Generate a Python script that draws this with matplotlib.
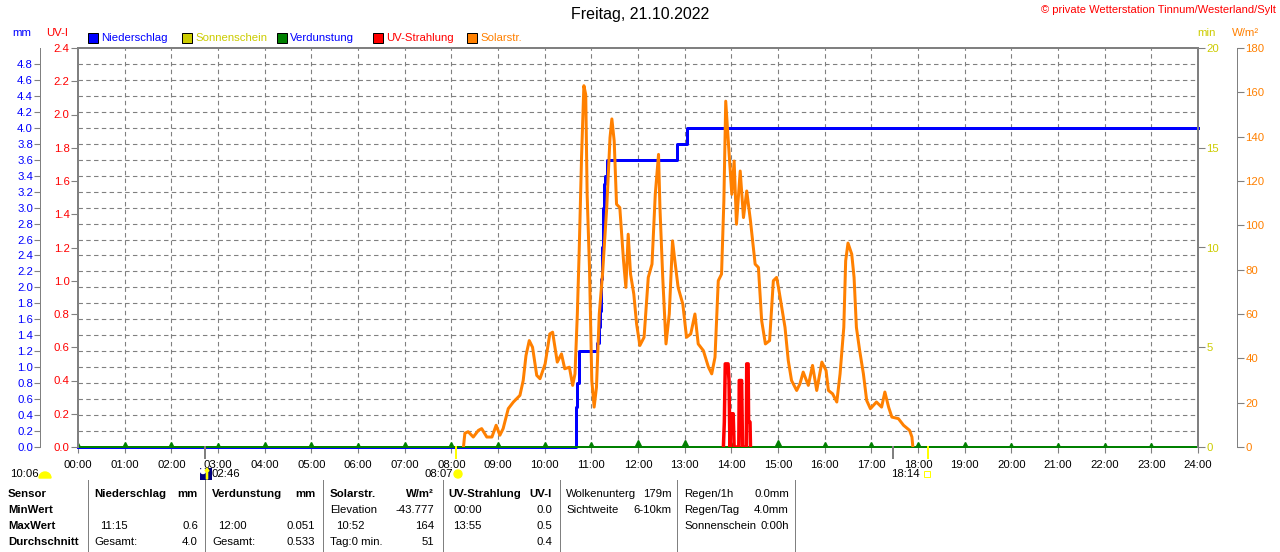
import matplotlib
matplotlib.use("Agg")
import matplotlib.pyplot as plt
import matplotlib.patches as mpatches
from matplotlib.transforms import IdentityTransform
import numpy as np

plt.rcParams['font.family'] = ['Liberation Sans', 'DejaVu Sans']

#### Data (time in hours)

rain_t = [0.0, 10.67, 10.70, 10.73, 11.13, 11.17, 11.19, 11.20, 11.22, 11.25, 11.27, 11.30, 11.34, 12.84, 13.04, 24.0]
rain_mm = [0.0, 0.5, 0.8, 1.2, 1.3, 1.5, 1.7, 2.1, 2.5, 3.0, 3.3, 3.4, 3.6, 3.8, 4.0, 4.0]

solar_t = [8.26, 8.29, 8.36, 8.47, 8.58, 8.65, 8.76, 8.87, 8.96, 9.04, 9.11, 9.22, 9.33, 9.47, 9.54,
           9.60, 9.67, 9.74, 9.83, 9.90, 10.01, 10.11, 10.17, 10.22, 10.27, 10.36, 10.43, 10.53, 10.60,
           10.65, 10.70, 10.74, 10.79, 10.84, 10.88, 10.91, 10.96, 11.01, 11.06, 11.11, 11.17, 11.24,
           11.33, 11.40, 11.44, 11.49, 11.54, 11.61, 11.69, 11.74, 11.79, 11.84, 11.91, 11.97, 12.04,
           12.13, 12.22, 12.30, 12.37, 12.44, 12.47, 12.53, 12.60, 12.67, 12.74, 12.79, 12.86, 12.96,
           13.04, 13.13, 13.22, 13.29, 13.40, 13.51, 13.58, 13.65, 13.72, 13.79, 13.84, 13.88, 13.93,
           14.01, 14.06, 14.11, 14.19, 14.26, 14.33, 14.41, 14.51, 14.58, 14.65, 14.73, 14.82, 14.90,
           14.97, 15.01, 15.15, 15.22, 15.29, 15.40, 15.47, 15.54, 15.65, 15.74, 15.83, 15.94, 16.03,
           16.08, 16.17, 16.26, 16.33, 16.41, 16.45, 16.50, 16.58, 16.63, 16.68, 16.75, 16.83, 16.90,
           16.98, 17.11, 17.22, 17.29, 17.37, 17.44, 17.58, 17.69, 17.82, 17.87, 17.89]
solar_w = [0, 6.2, 6.9, 4.5, 7.5, 8.3, 4.5, 4.5, 9.8, 5.3, 8.3, 17.3, 20.3, 23.3, 30,
           41.3, 48, 45, 32.3, 30.8, 37.5, 51, 51.8, 45, 38.3, 42, 35.3, 36, 27.8,
           33, 60, 88.5, 130.5, 163, 159, 114, 81, 30, 18, 27, 60, 78,
           108, 139.5, 148, 138, 109.5, 108, 84, 72, 96, 78, 69, 55.5, 45.8,
           49.5, 76.5, 82.5, 114, 132, 108, 76.5, 46.5, 60, 93, 84, 72, 64.5,
           49.5, 51, 60, 46.5, 43.5, 36, 33, 40.5, 75, 78, 111, 156, 139.5,
           114, 129, 100.5, 124.5, 103.5, 115.5, 102, 82.5, 81, 57, 46.5, 48, 75,
           76.5, 72, 54, 39, 30, 25.5, 28.5, 33.8, 27.8, 36.8, 25.5, 38.3, 34.5,
           25.5, 24, 20.3, 33, 54, 84, 92, 87, 76.5, 54, 43.5, 33, 21,
           17.3, 20.3, 18, 24.8, 18, 13.5, 12.8, 9.8, 7.5, 4.5, 0]

uv_t = [13.83, 13.85, 13.87, 13.93, 13.95, 13.97, 13.99, 14.04, 14.06, 14.16, 14.17, 14.22, 14.24,
        14.32, 14.33, 14.36, 14.37, 14.40, 14.41]
uv_i = [0.0, 0.15, 0.5, 0.5, 0.4, 0.0, 0.2, 0.2, 0.0, 0.0, 0.4, 0.4, 0.0,
        0.0, 0.5, 0.5, 0.15, 0.15, 0.0]

evap_h = list(range(24))
evap_mm = [0.015, 0.02, 0.02, 0.015, 0.02, 0.02, 0.015, 0.02, 0.02, 0.025, 0.025, 0.03,
           0.051, 0.045, 0.03, 0.045, 0.025, 0.025, 0.025, 0.02, 0.015, 0.015, 0.015, 0.015]

hour_labels = ["%02d:00" % h for h in range(25)]
mm_ticks = [round(0.2 * i, 1) for i in range(25)]
uv_ticks = [round(0.2 * i, 1) for i in range(13)]
min_ticks = [0, 5, 10, 15, 20]
sol_ticks = list(range(0, 181, 20))

#### Helpers for pixel placement

W, H = 1280, 552
def fx(px):
    return px / W
def fy(py):
    return 1 - py / H

GRAY = "#808080"
BLUE = "#0000ff"
RED = "#ff0000"
YEL = "#cccc00"
SUN = "#ffff00"
ORA = "#ff8000"
GRN = "#008000"
px = 72 / 100  # points per pixel
FS = 8.2

fig = plt.figure(figsize=(12.8, 5.52), dpi=100)
ax = fig.add_axes([fx(78), fy(447), 1120 / W, 399 / H])
ax.set_xlim(0, 24)
ax.set_ylim(0, 5)

# grid
for h in range(1, 24):
    ax.axvline(h, color=GRAY, lw=0.8, ls=(0, (4, 3)), zorder=1)
for i in range(1, 25):
    ax.axhline(0.2 * i, color=GRAY, lw=0.8, ls=(0, (4, 3)), zorder=1)

ax_uv = ax.twinx()
ax_uv.set_ylim(0, 2.4)
ax_sol = ax.twinx()
ax_sol.set_ylim(0, 180)
ax_min = ax.twinx()
ax_min.set_ylim(0, 20)

# data
ax_sol.plot(solar_t, solar_w, color=ORA, lw=3 * px, zorder=3)
ax.plot(rain_t, rain_mm, color=BLUE, lw=3 * px, drawstyle="steps-post", zorder=5, clip_on=False)
ax.plot([0, 24], [0, 0], color=GRN, lw=2 * px, zorder=6, clip_on=False)
ax.plot(evap_h, evap_mm, ls="none", marker="^", ms=4, color=GRN, zorder=6)
ax_uv.plot(uv_t, uv_i, color=RED, lw=3.5 * px, zorder=4)

# axes styling
for a in (ax, ax_uv, ax_sol, ax_min):
    a.patch.set_visible(False)
    for s in a.spines.values():
        s.set_visible(False)

ax.set_xticks(range(25))
ax.set_xticklabels(hour_labels, fontsize=FS)
ax.tick_params(axis="x", direction="out", length=4, color=GRAY, pad=5)
ax.spines["left"].set_visible(True)
ax.spines["left"].set_position(("outward", 38 * px))
ax.spines["left"].set_color(GRAY)
ax.spines["left"].set_linewidth(1 * px)
ax.set_yticks(mm_ticks)
ax.set_yticklabels(["%.1f" % v for v in mm_ticks], fontsize=FS, color=BLUE)
ax.tick_params(axis="y", direction="out", length=4, color=GRAY, pad=1)

ax_uv.yaxis.tick_left()
ax_uv.set_yticks(uv_ticks)
ax_uv.set_yticklabels(["%.1f" % v for v in uv_ticks], fontsize=FS, color=RED)
ax_uv.tick_params(axis="y", direction="out", length=5, color=GRAY, pad=1)
for side in ("left", "right", "top"):
    ax_uv.spines[side].set_visible(True)
    ax_uv.spines[side].set_color(GRAY)
    ax_uv.spines[side].set_linewidth(2 * px)

ax_min.set_yticks(min_ticks)
ax_min.set_yticklabels([str(v) for v in min_ticks], fontsize=FS, color=YEL)
ax_min.tick_params(axis="y", direction="out", length=5, color=GRAY, pad=1)

ax_sol.spines["right"].set_visible(True)
ax_sol.spines["right"].set_position(("outward", 39 * px))
ax_sol.spines["right"].set_color(GRAY)
ax_sol.spines["right"].set_linewidth(1 * px)
ax_sol.set_yticks(sol_ticks)
ax_sol.set_yticklabels([str(v) for v in sol_ticks], fontsize=FS, color=ORA)
ax_sol.tick_params(axis="y", direction="out", length=5, color=GRAY, pad=1)

#### Header texts

fig.text(0.5, fy(15), "Freitag, 21.10.2022", ha="center", va="center", fontsize=11.5)
fig.text(fx(1276), fy(10), "\u00a9 private Wetterstation Tinnum/Westerland/Sylt",
         ha="right", va="center", fontsize=8, color=RED)
fig.text(fx(22), fy(33), "mm", ha="center", va="center", fontsize=FS, color=BLUE)
fig.text(fx(57), fy(33), "UV-I", ha="center", va="center", fontsize=FS, color=RED)
fig.text(fx(1206), fy(33), "min", ha="center", va="center", fontsize=FS, color=YEL)
fig.text(fx(1246), fy(33), "W/m\u00b2", ha="center", va="center", fontsize=FS, color=ORA)

legend_items = [("Niederschlag", BLUE, BLUE, 88), ("Sonnenschein", YEL, YEL, 182),
                ("Verdunstung", GRN, BLUE, 277), ("UV-Strahlung", RED, RED, 373),
                ("Solarstr.", ORA, ORA, 467)]
for name, box, txt, x0 in legend_items:
    fig.patches.append(mpatches.Rectangle((fx(x0), fy(43)), 10 / W, 10 / H, facecolor=box,
                                          edgecolor="black", lw=1 * px, transform=fig.transFigure))
    fig.text(fx(x0 + 13), fy(38), name, ha="left", va="center", fontsize=FS, color=txt)

#### Sun / moon markers below the axis

for xp, c in [(205, GRAY), (893, GRAY), (456, SUN), (928, SUN)]:
    fig.lines.append(plt.Line2D([fx(xp), fx(xp)], [fy(447), fy(458)], color=c, lw=2 * px,
                                transform=fig.transFigure))
pix = IdentityTransform()
fig.text(fx(10), fy(474), "10:06", ha="left", va="center", fontsize=FS)
fig.patches.append(mpatches.Wedge((45, H - 478), 6, 0, 180, color=SUN, transform=pix))
fig.patches.append(mpatches.Rectangle((200, H - 480), 12, 12, facecolor="#000080", transform=pix))
fig.patches.append(mpatches.Circle((203, H - 471), 2.5, color="white", transform=pix))
fig.patches.append(mpatches.FancyArrow(207, H - 479, 0, 8, width=1.2, head_width=4, head_length=3,
                                       color=SUN, transform=pix))
fig.text(fx(212), fy(474), "02:46", ha="left", va="center", fontsize=FS)
fig.text(fx(453), fy(474), "08:07", ha="right", va="center", fontsize=FS)
fig.patches.append(mpatches.Circle((458, H - 474), 4, color=SUN, transform=pix))
fig.text(fx(920), fy(474), "18:14", ha="right", va="center", fontsize=FS)
fig.patches.append(mpatches.Rectangle((924, H - 477), 6, 6, facecolor="none",
                                      edgecolor=SUN, lw=1 * px, transform=pix))

#### Summary table

rows_y = [494, 510, 526, 542]
for xp in [88, 205, 323, 443, 560, 677, 795]:
    fig.lines.append(plt.Line2D([fx(xp), fx(xp)], [fy(480), fy(552)], color=GRAY, lw=1 * px,
                                transform=fig.transFigure))

def cell(x, row, s, ha="left", bold=False):
    fig.text(fx(x), fy(rows_y[row]), s, ha=ha, va="center", fontsize=FS,
             fontweight="bold" if bold else "normal")

for i, s in enumerate(["Sensor", "MinWert", "MaxWert", "Durchschnitt"]):
    cell(8, i, s, bold=True)
cell(94, 0, "Niederschlag", bold=True); cell(198, 0, "mm", "right", True)
cell(100, 2, "11:15"); cell(198, 2, "0.6", "right")
cell(94, 3, "Gesamt:"); cell(198, 3, "4.0", "right")
cell(212, 0, "Verdunstung", bold=True); cell(315, 0, "mm", "right", True)
cell(218, 2, "12:00"); cell(315, 2, "0.051", "right")
cell(212, 3, "Gesamt:"); cell(315, 3, "0.533", "right")
cell(330, 0, "Solarstr.", bold=True); cell(434, 0, "W/m\u00b2", "right", True)
cell(330, 1, "Elevation"); cell(434, 1, "-43.777", "right")
cell(336, 2, "10:52"); cell(434, 2, "164", "right")
cell(330, 3, "Tag:0 min."); cell(434, 3, "51", "right")
cell(448, 0, "UV-Strahlung", bold=True); cell(552, 0, "UV-I", "right", True)
cell(453, 1, "00:00"); cell(552, 1, "0.0", "right")
cell(453, 2, "13:55"); cell(552, 2, "0.5", "right")
cell(552, 3, "0.4", "right")
cell(566, 0, "Wolkenunterg"); cell(672, 0, "179m", "right")
cell(566, 1, "Sichtweite"); cell(672, 1, "6-10km", "right")
cell(684, 0, "Regen/1h"); cell(789, 0, "0.0mm", "right")
cell(684, 1, "Regen/Tag"); cell(789, 1, "4.0mm", "right")
cell(684, 2, "Sonnenschein"); cell(789, 2, "0:00h", "right")

fig.savefig("out.png", dpi=100)
